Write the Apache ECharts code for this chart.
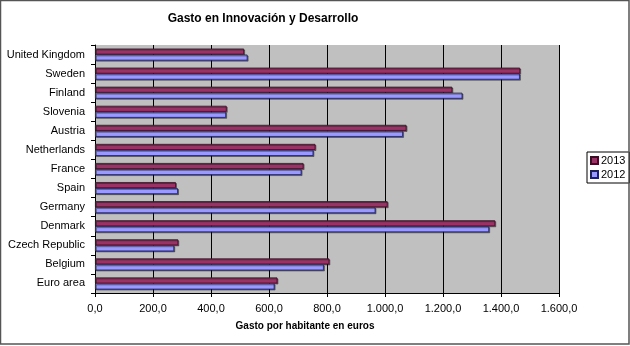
<!DOCTYPE html>
<html>
<head>
<meta charset="utf-8">
<script src="https://cdn.jsdelivr.net/npm/echarts@6/dist/echarts.min.js"></script>
<style>
  html, body { margin: 0; padding: 0; background: #fff; }
  #chart { width: 630px; height: 346px; }
</style>
</head>
<body>
<div id="chart"></div>
<script>
// Countries, listed bottom to top along the category axis
const countries = ['Euro area', 'Belgium', 'Czech Republic', 'Denmark', 'Germany', 'Spain',
  'France', 'Netherlands', 'Austria', 'Slovenia', 'Finland', 'Sweden', 'United Kingdom'];

// R&D spending per inhabitant (euros)
const values2012 = [619, 789, 273, 1359, 967, 286, 712, 753, 1062, 452, 1267, 1465, 526];
const values2013 = [629, 808, 287, 1380, 1009, 279, 719, 760, 1074, 454, 1232, 1466, 514];

const seriesNames = ['2013', '2012'];
const xTicks = { min: 0, max: 1600, interval: 200 };

const FONT = '"Liberation Sans", Arial, sans-serif';

function fmt(v) {
  const s = Math.round(v).toString().replace(/\B(?=(\d{3})+(?!\d))/g, '.');
  return s + ',0';
}

const chart = echarts.init(document.getElementById('chart'), null, { renderer: 'canvas' });

const barStyle = (color, border) => ({
  color: color,
  borderColor: border,
  borderWidth: 0.8,
  shadowColor: 'rgba(0,0,0,0.45)',
  shadowOffsetX: 1,
  shadowOffsetY: 1,
  shadowBlur: 0
});

chart.setOption({
  backgroundColor: '#fff',
  animation: false,
  textStyle: { fontFamily: FONT },
  legend: {
    data: seriesNames,
    orient: 'vertical',
    left: 587,
    top: 152,
    padding: [3, 4, 3, 3],
    itemGap: 3,
    itemWidth: 7,
    itemHeight: 7,
    borderColor: '#000',
    borderWidth: 1,
    borderRadius: 0,
    icon: 'rect',
    textStyle: { fontFamily: FONT, fontSize: 11, color: '#000', padding: [0, 0, 0, -2] }
  },
  grid: { left: 95, right: 71, top: 45, bottom: 53, containLabel: false,
    show: true, backgroundColor: '#C0C0C0', borderWidth: 0 },
  xAxis: {
    type: 'value',
    min: xTicks.min,
    max: xTicks.max,
    interval: xTicks.interval,
    axisLine: { show: true, lineStyle: { color: '#000', width: 1 } },
    axisTick: { show: true, length: 4, lineStyle: { color: '#000' } },
    axisLabel: { formatter: fmt, fontFamily: FONT, fontSize: 11, color: '#000', margin: 10 },
    splitLine: { show: true, lineStyle: { color: '#000', width: 1 } }
  },
  yAxis: {
    type: 'category',
    data: countries,
    axisLine: { show: true, lineStyle: { color: '#000', width: 1 } },
    axisTick: { show: true, length: 4, inside: false, lineStyle: { color: '#000' } },
    axisLabel: { fontFamily: FONT, fontSize: 11, color: '#000', margin: 10 },
    splitLine: { show: false }
  },
  graphic: [
    {
      type: 'text',
      x: 263, y: 13,
      style: {
        text: 'Gasto en Innovación y Desarrollo',
        font: 'bold 12px ' + FONT,
        fill: '#000',
        textAlign: 'center'
      }
    },
    {
      type: 'text',
      x: 305, y: 321,
      style: {
        text: 'Gasto por habitante en euros',
        font: 'bold 10px ' + FONT,
        fill: '#000',
        textAlign: 'center'
      }
    },
    {
      type: 'rect',
      shape: { x: 0.5, y: 0.5, width: 628.5, height: 343.5 },
      style: { fill: 'none', stroke: '#555', lineWidth: 1.5 },
      silent: true, z: 100
    }
  ],
  series: [
    {
      name: '2013',
      type: 'bar',
      data: values2013,
      barWidth: 6,
      barGap: '0%',
      itemStyle: barStyle('#993366', '#3a0f25')
    },
    {
      name: '2012',
      type: 'bar',
      data: values2012,
      barWidth: 6,
      barGap: '0%',
      itemStyle: barStyle('#9999FF', '#1f1f5a')
    }
  ]
});
</script>
</body>
</html>
